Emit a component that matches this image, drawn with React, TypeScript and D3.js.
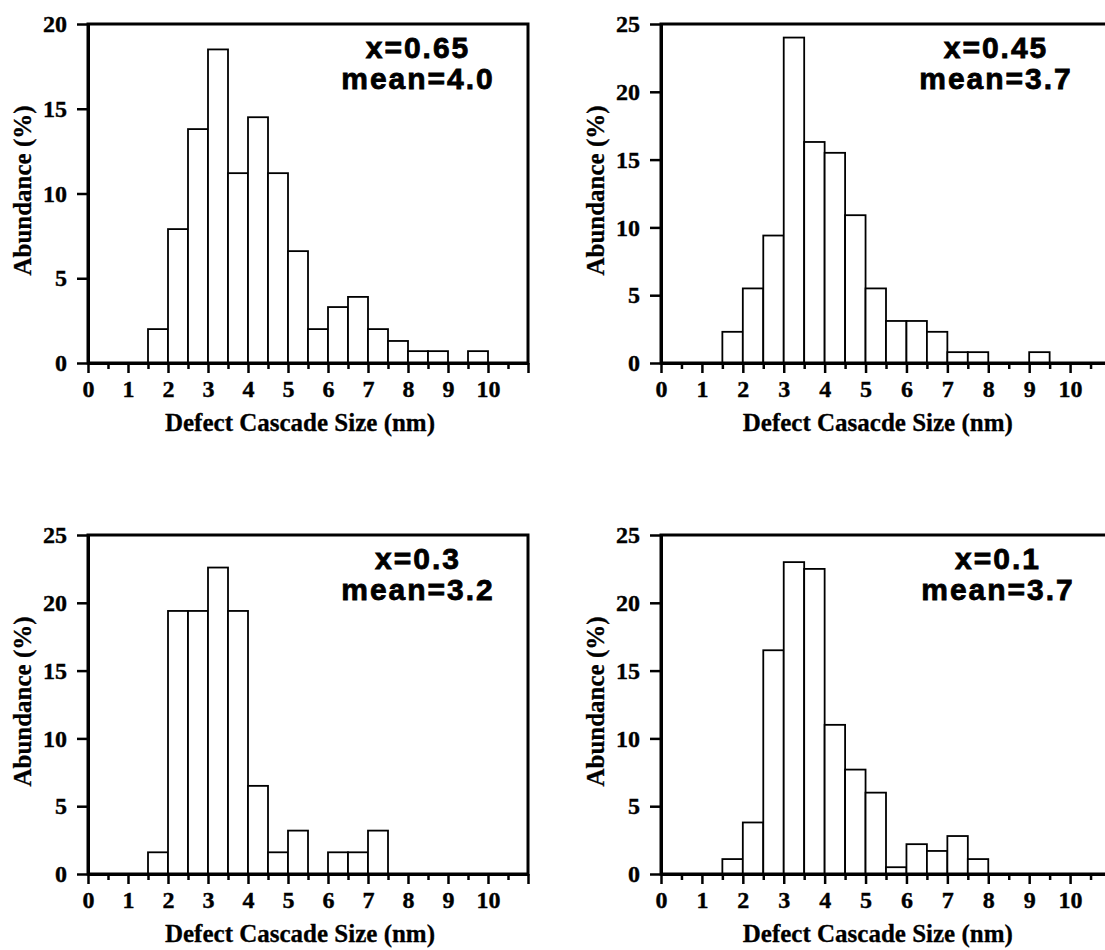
import React, { useEffect, useRef } from "react";
import * as d3 from "d3";

// left edges of the 0.5 nm bins that carry data
const binLefts = [1.5, 2, 2.5, 3, 3.5, 4, 4.5, 5, 5.5, 6, 6.5, 7, 7.5, 8, 8.5, 9, 9.5, 10];
const binWidth = 0.5;

// abundance (%) per bin
const abundance065 = [2.0, 7.9, 13.8, 18.5, 11.2, 14.5, 11.2, 6.6, 2.0, 3.3, 3.9, 2.0, 1.3, 0.7, 0.7, 0, 0.7, 0];
const abundance045 = [2.3, 5.5, 9.4, 24.0, 16.3, 15.5, 10.9, 5.5, 3.1, 3.1, 2.3, 0.8, 0.8, 0, 0, 0.8, 0, 0];
const abundance03 = [1.6, 19.4, 19.4, 22.6, 19.4, 6.5, 1.6, 3.2, 0, 1.6, 1.6, 3.2, 0, 0, 0, 0, 0, 0];
const abundance01 = [1.1, 3.8, 16.5, 23.0, 22.5, 11.0, 7.7, 6.0, 0.5, 2.2, 1.7, 2.8, 1.1, 0, 0, 0, 0, 0];

const xLabels = [0, 1, 2, 3, 4, 5, 6, 7, 8, 9, 10];
const yTicks20 = [0, 5, 10, 15, 20];
const yTicks25 = [0, 5, 10, 15, 20, 25];

const panels = [
  { values: abundance065, yMax: 20, yTicks: yTicks20, label: "x=0.65", mean: "mean=4.0", title: "Defect Cascade Size (nm)",
    left: 88, right: 528, top: 24, bottom: 363, annX: 418 },
  { values: abundance045, yMax: 25, yTicks: yTicks25, label: "x=0.45", mean: "mean=3.7", title: "Defect Casacde Size (nm)",
    left: 661, right: 1111, top: 24, bottom: 363, annX: 996 },
  { values: abundance03, yMax: 25, yTicks: yTicks25, label: "x=0.3", mean: "mean=3.2", title: "Defect Cascade Size (nm)",
    left: 88, right: 528, top: 535, bottom: 874, annX: 418 },
  { values: abundance01, yMax: 25, yTicks: yTicks25, label: "x=0.1", mean: "mean=3.7", title: "Defect Cascade Size (nm)",
    left: 661, right: 1111, top: 535, bottom: 874, annX: 998 },
];

const serif = "'Liberation Serif', 'Times New Roman', serif";
const sans = "'Liberation Sans', Arial, Helvetica, sans-serif";

export default function App() {
  const ref = useRef<SVGSVGElement>(null);

  useEffect(() => {
    const svg = d3.select(ref.current);
    svg.selectAll("*").remove();

    panels.forEach((p) => {
      const x = d3.scaleLinear().domain([0, 11]).range([p.left, p.right]);
      const y = d3.scaleLinear().domain([0, p.yMax]).range([p.bottom, p.top]);
      const g = svg.append("g");

      // bars
      const bars = binLefts.map((b, i) => ({ b, v: p.values[i] })).filter((d) => d.v > 0);
      g.selectAll("rect.bar")
        .data(bars)
        .join("rect")
        .attr("class", "bar")
        .attr("x", (d) => x(d.b))
        .attr("y", (d) => y(d.v))
        .attr("width", (d) => x(d.b + binWidth) - x(d.b))
        .attr("height", (d) => y(0) - y(d.v))
        .attr("fill", "#fff")
        .attr("stroke", "#000")
        .attr("stroke-width", 1.8);

      // frame
      g.append("rect")
        .attr("x", x(0))
        .attr("y", y(p.yMax))
        .attr("width", x(11) - x(0))
        .attr("height", y(0) - y(p.yMax))
        .attr("fill", "none")
        .attr("stroke", "#000")
        .attr("stroke-width", 3);

      // y axis
      const ya = g.append("g")
        .attr("transform", `translate(${x(0)},0)`)
        .call(d3.axisLeft(y).tickValues(p.yTicks).tickSize(11).tickSizeOuter(0).tickPadding(10).tickFormat(d3.format("d")));
      ya.select(".domain").attr("stroke-width", 3);
      ya.selectAll(".tick line").attr("stroke-width", 2.5);
      ya.selectAll("text")
        .attr("font-family", serif)
        .attr("font-weight", "bold")
        .attr("font-size", 24)
        .attr("fill", "#000")
        .attr("stroke", "#000")
        .attr("stroke-width", 0.4);

      // x axis, ticks every 0.5 nm, labels on whole nm
      const halfTicks = d3.range(0, 11.01, 0.5);
      const xa = g.append("g")
        .attr("transform", `translate(0,${y(0)})`)
        .call(
          d3.axisBottom(x)
            .tickValues(halfTicks)
            .tickSize(6)
            .tickSizeOuter(0)
            .tickFormat((d) => (xLabels.includes(+d) ? String(d) : ""))
        );
      xa.select(".domain").attr("stroke-width", 3);
      xa.selectAll(".tick line")
        .attr("stroke-width", 2.5)
        .attr("y2", (d) => (Number.isInteger(+d) ? 10 : 6));
      xa.selectAll("text")
        .attr("y", 34)
        .attr("dy", 0)
        .attr("font-family", serif)
        .attr("font-weight", "bold")
        .attr("font-size", 24)
        .attr("fill", "#000")
        .attr("stroke", "#000")
        .attr("stroke-width", 0.4);

      // axis titles
      g.append("text")
        .attr("x", x(5.3))
        .attr("y", y(0) + 68)
        .attr("text-anchor", "middle")
        .attr("font-family", serif)
        .attr("font-weight", "bold")
        .attr("font-size", 25)
        .attr("stroke", "#000")
        .attr("stroke-width", 0.3)
        .text(p.title);

      g.append("text")
        .attr("transform", `translate(${x(0) - 57},${(y(0) + y(p.yMax)) / 2 - 3}) rotate(-90)`)
        .attr("text-anchor", "middle")
        .attr("font-family", serif)
        .attr("font-weight", "bold")
        .attr("font-size", 25)
        .attr("stroke", "#000")
        .attr("stroke-width", 0.3)
        .text("Abundance (%)");

      // annotation
      const ann = g.append("text")
        .attr("text-anchor", "middle")
        .attr("font-family", sans)
        .attr("font-weight", "bold")
        .attr("font-size", 30)
        .attr("letter-spacing", 2)
        .attr("stroke", "#000")
        .attr("stroke-width", 0.8);
      ann.append("tspan").attr("x", p.annX).attr("y", y(p.yMax) + 34).text(p.label);
      ann.append("tspan").attr("x", p.annX).attr("y", y(p.yMax) + 65).text(p.mean);
    });
  }, []);

  return (
    <svg
      ref={ref}
      width={1105}
      height={950}
      style={{ position: "absolute", left: 0, top: 0, background: "#fff" }}
    />
  );
}
